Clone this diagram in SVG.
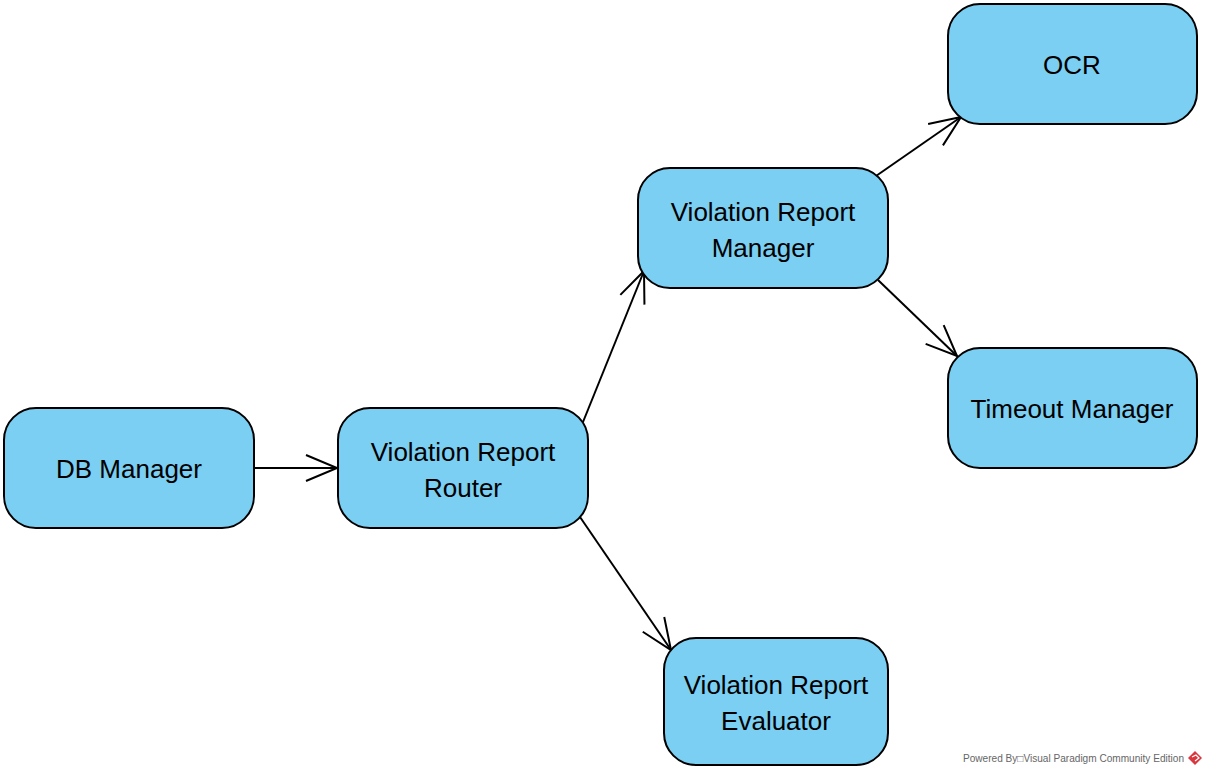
<svg xmlns="http://www.w3.org/2000/svg" width="1207" height="775" viewBox="0 0 1207 775">
<style>
.node rect{fill:#7acff3;stroke:#000;stroke-width:2}
.node text{font-family:"Liberation Sans",Arial,sans-serif;font-size:26px;fill:#000;text-anchor:middle}
.conn line{stroke:#000;stroke-width:2;fill:none;marker-end:url(#arr)}
.foot{font-family:"Liberation Sans",Arial,sans-serif;font-size:10px;fill:#666}
</style>
<defs>
<marker id="arr" markerUnits="userSpaceOnUse" viewBox="-32 -15 34 30" refX="0" refY="0" markerWidth="34" markerHeight="30" orient="auto">
<path d="M-31,-13 L0,0 L-31,13" fill="none" stroke="#000" stroke-width="2"/>
</marker>
</defs>
<rect width="1207" height="775" fill="#fff"/>
<g class="conn" id="connectors">
<line x1="254" y1="468" x2="337" y2="468"/>
<line x1="583" y1="422" x2="644" y2="271"/>
<line x1="876" y1="176" x2="961" y2="117"/>
<line x1="878" y1="280" x2="957" y2="356"/>
<line x1="580" y1="517" x2="671" y2="650"/>
</g>
<g class="node" id="db-manager">
<rect x="4" y="408" width="250" height="120" rx="32"/>
<text x="129" y="478">DB Manager</text>
</g>
<g class="node" id="vr-router">
<rect x="338" y="408" width="250" height="120" rx="32"/>
<text x="463" y="461">Violation Report</text>
<text x="463" y="497">Router</text>
</g>
<g class="node" id="vr-manager">
<rect x="638" y="168" width="250" height="120" rx="32"/>
<text x="763" y="221">Violation Report</text>
<text x="763" y="257">Manager</text>
</g>
<g class="node" id="ocr">
<rect x="948" y="4" width="249" height="120" rx="32"/>
<text x="1072" y="74">OCR</text>
</g>
<g class="node" id="timeout-manager">
<rect x="948" y="348" width="249" height="120" rx="32"/>
<text x="1072" y="418">Timeout Manager</text>
</g>
<g class="node" id="vr-evaluator">
<rect x="664" y="638" width="224" height="127" rx="32"/>
<text x="776" y="694">Violation Report</text>
<text x="776" y="730">Evaluator</text>
</g>
<text class="foot" x="963" y="762" textLength="221" lengthAdjust="spacingAndGlyphs">Powered By□Visual Paradigm Community Edition</text>
<g id="logo">
<polygon points="1195,751 1202,758 1195,765 1188,758" fill="#d9363e"/>
<path d="M1192,757 L1196,755 L1199,758 L1195,761" fill="none" stroke="#fff" stroke-width="1.2"/>
</g>
</svg>
